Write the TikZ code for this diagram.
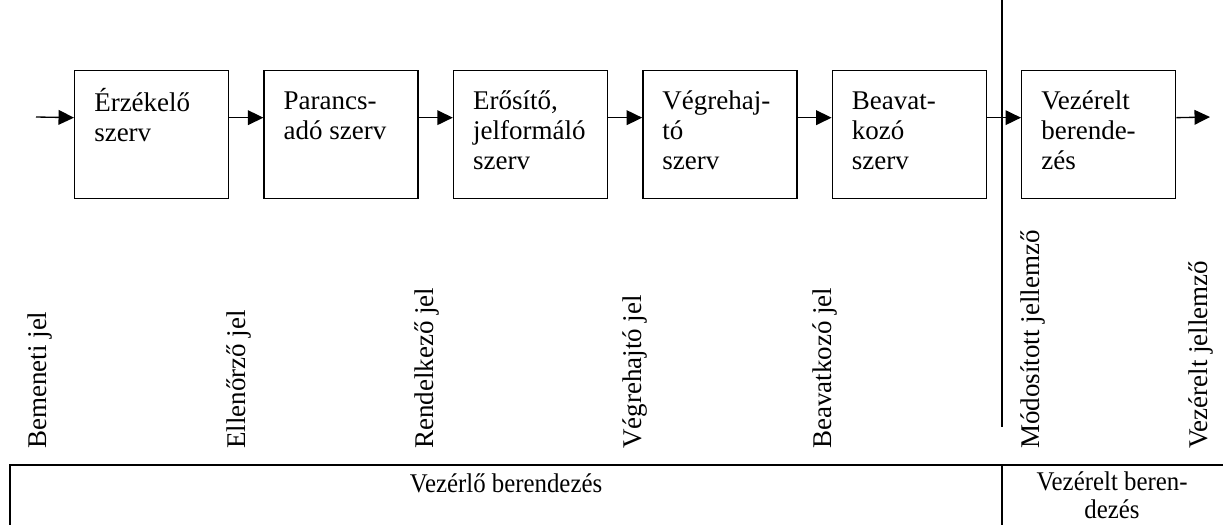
\documentclass[tikz,border=0pt]{standalone}
\usepackage{fontspec}
\usepackage{graphicx}
\setmainfont{Liberation Serif}
\usetikzlibrary{arrows.meta}
\begin{document}
\begin{tikzpicture}[x=0.75pt,y=-0.75pt,
  every node/.style={inner sep=0pt, font=\fontsize{20.25}{22.5}\selectfont},
  blk/.style={draw, line width=1pt, minimum width=115.5pt, minimum height=96pt, anchor=north west},
  blktext/.style={anchor=north west, align=left},
  arr/.style={line width=1pt, -{Triangle[length=11.6pt, width=11pt]}},
  sig/.style={rotate=90, anchor=base west},
  sep/.style={line width=1.5pt},
  cell/.style={font=\fontsize{20.25}{21}\selectfont, align=center}]
\useasboundingbox (0,0) rectangle (1223,525);
% blocks
\node[blk] (b1) at (74,70) {};
\node[blk] (b2) at (263.4,70) {};
\node[blk] (b3) at (452.8,70) {};
\node[blk] (b4) at (642.2,70) {};
\node[blk] (b5) at (831.6,70) {};
\node[blk] (b6) at (1021,70) {};
\node[blktext] (t1) at (94,88) {\strut Érzékelő\\\strut szerv};
\node[blktext] (t2) at (283.4,88) {\strut Parancs-\\\strut adó szerv};
\node[blktext] (t3) at (472.8,88) {\strut Erősítő,\\\strut jelformáló\\\strut szerv};
\node[blktext] (t4) at (662.2,88) {\strut Végrehaj-\\\strut tó\\\strut szerv};
\node[blktext] (t5) at (851.6,88) {\strut Beavat-\\\strut kozó\\\strut szerv};
\node[blktext] (t6) at (1041,88) {\strut Vezérelt\\\strut berende-\\\strut zés};
% connectors
\coordinate (in) at (36,117);
\coordinate (out) at (1210,117);
\draw[arr] (in) -- ([yshift=12.75pt]b1.west);
\draw[arr] ([yshift=12.75pt]b1.east) -- ([yshift=12.75pt]b2.west);
\draw[arr] ([yshift=12.75pt]b2.east) -- ([yshift=12.75pt]b3.west);
\draw[arr] ([yshift=12.75pt]b3.east) -- ([yshift=12.75pt]b4.west);
\draw[arr] ([yshift=12.75pt]b4.east) -- ([yshift=12.75pt]b5.west);
\draw[arr] ([yshift=12.75pt]b5.east) -- ([yshift=12.75pt]b6.west);
\draw[arr] ([yshift=12.75pt]b6.east) -- (out);
% separator
\coordinate (sepT) at (1002,0);
\coordinate (sepB) at (1002,427);
\draw[sep] (sepT) -- (sepB);
% signal labels
\node[sig] (l1) at (46,449) {Bemeneti jel};
\node[sig] (l2) at (245,449) {Ellenőrző jel};
\node[sig] (l3) at (433,449) {Rendelkező jel};
\node[sig] (l4) at (641,449) {Végrehajtó jel};
\node[sig] (l5) at (831,449) {Beavatkozó jel};
\node[sig] (l6) at (1039,449) {Módosított jellemző};
\node[sig] (l7) at (1207,449) {Vezérelt jellemző};
% table
\coordinate (tTR) at (1223,465);
\coordinate (tTL) at (10,465);
\coordinate (tBL) at (10,525);
\coordinate (tDT) at (1002,465);
\coordinate (tDB) at (1002,525);
\draw[sep] (tTR) -- (tTL) -- (tBL);
\draw[sep] (tDT) -- (tDB);
\node[cell, anchor=base] (c1) at (506,492) {\scalebox{0.92}[1]{Vezérlő berendezés}};
\node[cell, anchor=north] (c2) at (1112,471) {\scalebox{0.92}[1]{\strut Vezérelt beren-}\\\scalebox{0.92}[1]{dezés}};
\end{tikzpicture}
\end{document}
